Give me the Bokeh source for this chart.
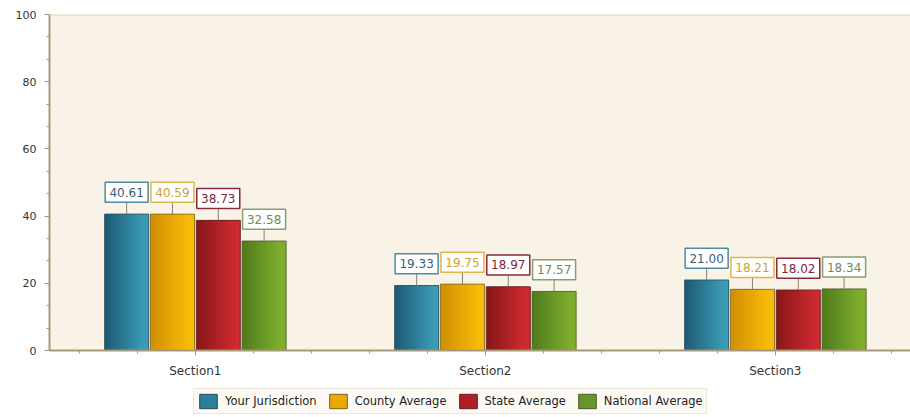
from bokeh.plotting import figure
from bokeh.models import (ColumnDataSource, FixedTicker, Legend, LegendItem,
                          Span, Range1d)
from bokeh.layouts import column
from bokeh.core.properties import value
from bokeh.embed import file_html
from bokeh.resources import INLINE

# ---- data ----
categories = ["Section1", "Section2", "Section3"]
series_names = ["Your Jurisdiction", "County Average", "State Average", "National Average"]
your_jurisdiction = [40.61, 19.33, 21.00]
county_average = [40.59, 19.75, 18.21]
state_average = [38.73, 18.97, 18.02]
national_average = [32.58, 17.57, 18.34]
y_ticks = [0, 20, 40, 60, 80, 100]

series_values = [your_jurisdiction, county_average, state_average, national_average]

# ---- styles ----
grad_left = ["#1d5a73", "#cf8f00", "#851719", "#4f7a1c"]
grad_right = ["#3b9ab6", "#f7bc0a", "#cc2a30", "#7fae2e"]
mid_col = ["#2a7f9a", "#eaa800", "#b01f25", "#68952a"]
edge_col = ["#2a4a58", "#7a6020", "#5a2020", "#4a5a2a"]
lab_border = ["#4f8aa6", "#dcb84a", "#8a2a40", "#86a070"]
lab_text = ["#3b5d78", "#d0a22a", "#7a2840", "#6f8a5a"]
offsets = [-0.237, -0.079, 0.079, 0.237]
bar_w = 0.152
n_strips = 16

px_per_unit = 339 / 100.0
gap_px = 12
box_h = 20

def hex2rgb(h):
    h = h.lstrip("#")
    return tuple(int(h[i:i + 2], 16) for i in (0, 2, 4))

def mix(a, b, t):
    ra, rb = hex2rgb(a), hex2rgb(b)
    return "#%02x%02x%02x" % tuple(int(round(ra[i] + (rb[i] - ra[i]) * t)) for i in range(3))

p = figure(width=910, height=380, output_backend="svg", toolbar_location=None,
           x_range=Range1d(-0.503, 2.466), y_range=Range1d(0, 100),
           min_border_left=49, min_border_right=0, min_border_top=14, min_border_bottom=27)
p.background_fill_color = "#f9f2e6"
p.border_fill_color = "white"
p.outline_line_color = None
p.xgrid.visible = False
p.ygrid.visible = False

cat_x = list(range(len(categories)))
for s, vals in enumerate(series_values):
    xs = [c + offsets[s] for c in cat_x]
    src = ColumnDataSource(dict(x=xs, top=vals,
                                lab=["%.2f" % v for v in vals],
                                lt=[v + gap_px / px_per_unit for v in vals],
                                lc=[v + (gap_px + box_h / 2) / px_per_unit for v in vals]))
    # gradient strips (overlapping to avoid seams)
    sl, sr, st, sc = [], [], [], []
    step = bar_w / n_strips
    for i, v in enumerate(vals):
        left0 = xs[i] - bar_w / 2
        for k in range(n_strips):
            t = (k + 0.5) / n_strips
            sl.append(left0 + k * step)
            sr.append(min(left0 + bar_w, left0 + (k + 2) * step))
            st.append(v)
            sc.append(mix(grad_left[s], grad_right[s], min(1.0, t * 1.15)))
    p.quad(left=sl, right=sr, top=st, bottom=0, fill_color=sc, line_color=None)
    p.vbar(x="x", top="top", bottom=0, width=bar_w, source=src,
           fill_alpha=0, line_color=edge_col[s], line_width=1, line_alpha=0.8)
    # connector
    p.segment(x0="x", y0="top", x1="x", y1="lt", source=src, line_color="#8a8070", line_width=1)
    p.rect(x="x", y="lc", width=43, height=box_h, width_units="screen", height_units="screen",
           source=src, fill_color="white", line_color=lab_border[s], line_width=1.5)
    p.text(x="x", y="lc", text="lab", source=src, text_align="center",
           text_baseline="middle", text_font_size="12px", text_font=value("DejaVu Sans"),
           text_color=lab_text[s])

p.add_layout(Span(location=100, dimension="width", line_color="#e2d6c2", line_width=2))

# axes
p.yaxis.ticker = FixedTicker(ticks=y_ticks, minor_ticks=[i * 20 / 3 for i in range(16)])
p.xaxis.ticker = FixedTicker(ticks=cat_x, minor_ticks=[round(-0.4 + 0.2 * i, 2) for i in range(15)])
p.xaxis.major_label_overrides = {i: c for i, c in enumerate(categories)}
for ax in (p.xaxis, p.yaxis):
    ax.axis_line_color = "#a8987a"
    ax.axis_line_width = 2
    ax.major_tick_line_color = "#a8987a"
    ax.minor_tick_line_color = "#a8987a"
    ax.major_tick_in = 0
    ax.major_tick_out = 5
    ax.minor_tick_in = 0
    ax.minor_tick_out = 3
    ax.major_label_text_font = "DejaVu Sans"
    ax.major_label_text_color = "#333333"
p.yaxis.major_label_text_font_size = "11px"
p.xaxis.major_label_text_font_size = "12px"
p.yaxis.major_label_standoff = 8
p.xaxis.major_label_standoff = 8

# ---- legend strip ----
lf = figure(width=910, height=37, output_backend="svg", toolbar_location=None,
            x_range=Range1d(0, 1), y_range=Range1d(0, 1),
            x_axis_location=None, y_axis_location=None,
            min_border_left=0, min_border_right=0, min_border_top=0, min_border_bottom=0)
lf.outline_line_color = None
lf.xgrid.visible = False
lf.ygrid.visible = False
lf.background_fill_color = "white"
legend_items = []
for s in range(len(series_names)):
    # placeholder renderer kept outside the visible range, used only for the legend swatch
    r = lf.vbar(x=[-10], top=[-10], width=0.1, fill_color=mid_col[s], line_color=edge_col[s])
    legend_items.append(LegendItem(label=series_names[s], renderers=[r]))
legend = Legend(items=legend_items, orientation="horizontal", location=(144, 3),
                label_text_font="DejaVu Sans", label_text_font_size="11.5px",
                label_text_color="#222222", glyph_width=22, glyph_height=18,
                spacing=10, padding=3, label_standoff=6, margin=0,
                border_line_color="#ddd3c0", background_fill_color="#fdfaf5",
                background_fill_alpha=1)
lf.add_layout(legend, "center")

page = column(p, lf, spacing=0)
open("out.html", "w").write(file_html(page, INLINE))
